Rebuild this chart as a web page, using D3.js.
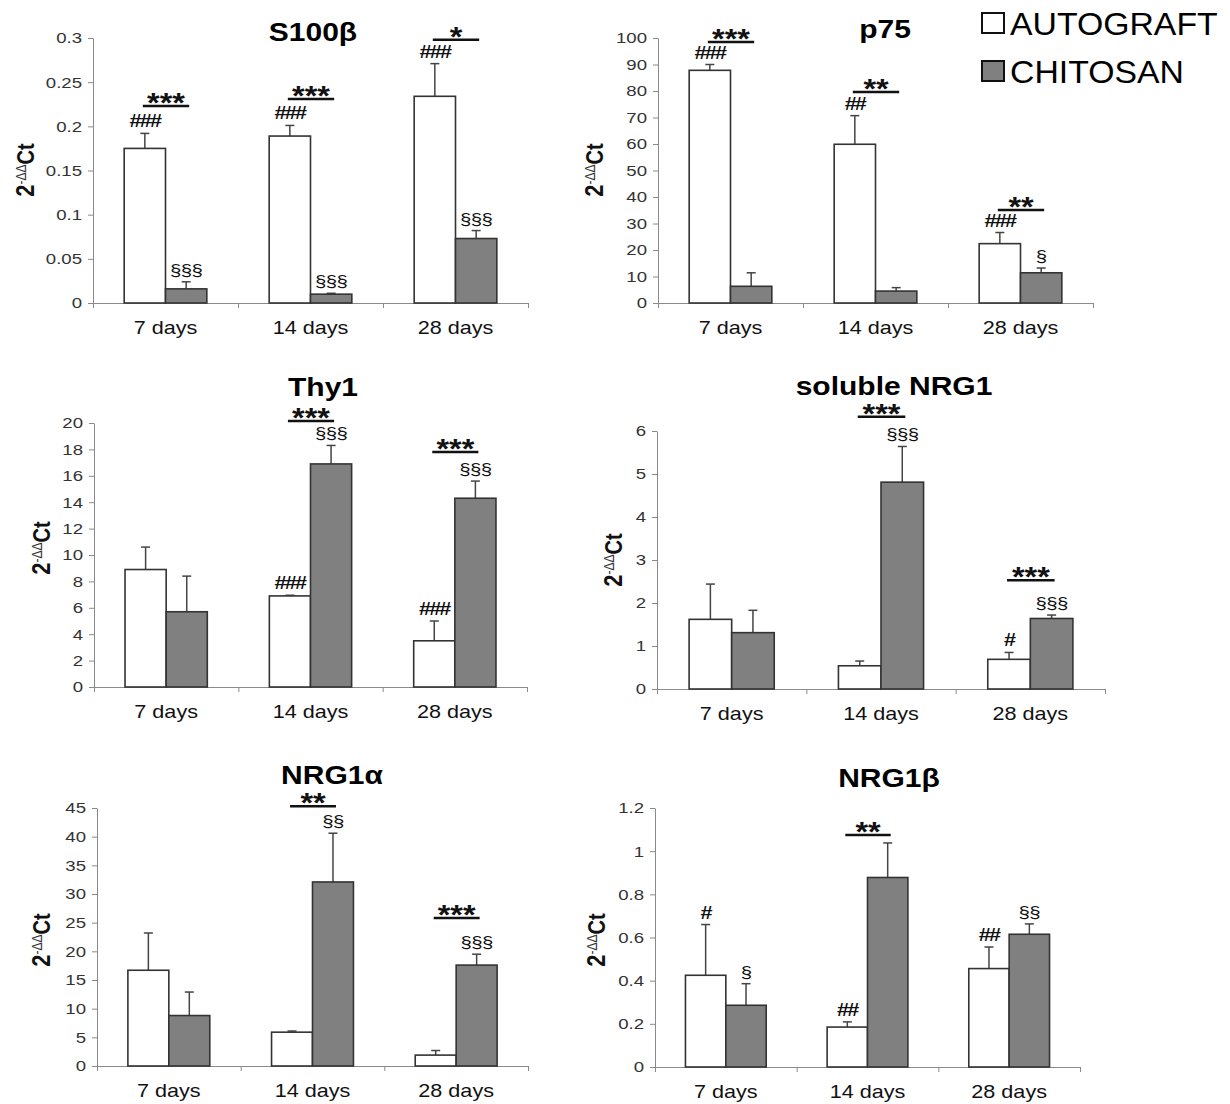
<!DOCTYPE html>
<html>
<head>
<meta charset="utf-8">
<script src="https://cdn.jsdelivr.net/npm/d3@7"></script>
<style>
  body { margin: 0; background: #fff; }
  svg { display: block; font-family: Arial, "Liberation Sans", sans-serif; }
</style>
</head>
<body>
<div id="chart"></div>
<script>
// categories and groups
const categories = ['7 days', '14 days', '28 days'];
const series = ['AUTOGRAFT', 'CHITOSAN'];

// S100β
const s100Auto = [0.175, 0.189, 0.234];
const s100AutoErr = [0.017, 0.012, 0.037];
const s100Chit = [0.016, 0.010, 0.073];
const s100ChitErr = [0.008, 0.001, 0.009];
const s100Ticks = [0, 0.05, 0.1, 0.15, 0.2, 0.25, 0.3];

// p75
const p75Auto = [87.8, 59.9, 22.4];
const p75AutoErr = [2.2, 10.8, 4.2];
const p75Chit = [6.3, 4.5, 11.4];
const p75ChitErr = [5.1, 1.3, 1.8];
const p75Ticks = [0, 10, 20, 30, 40, 50, 60, 70, 80, 90, 100];

// Thy1
const thyAuto = [8.9, 6.9, 3.5];
const thyAutoErr = [1.7, 0.05, 1.5];
const thyChit = [5.7, 16.9, 14.3];
const thyChitErr = [2.7, 1.4, 1.3];
const thyTicks = [0, 2, 4, 6, 8, 10, 12, 14, 16, 18, 20];

// soluble NRG1
const snrgAuto = [1.62, 0.54, 0.69];
const snrgAutoErr = [0.82, 0.11, 0.16];
const snrgChit = [1.31, 4.81, 1.64];
const snrgChitErr = [0.52, 0.83, 0.08];
const snrgTicks = [0, 1, 2, 3, 4, 5, 6];

// NRG1α
const nrgaAuto = [16.7, 5.9, 1.9];
const nrgaAutoErr = [6.5, 0.2, 0.8];
const nrgaChit = [8.8, 32.1, 17.6];
const nrgaChitErr = [4.1, 8.5, 1.9];
const nrgaTicks = [0, 5, 10, 15, 20, 25, 30, 35, 40, 45];

// NRG1β
const nrgbAuto = [0.425, 0.185, 0.456];
const nrgbAutoErr = [0.235, 0.024, 0.1];
const nrgbChit = [0.286, 0.878, 0.615];
const nrgbChitErr = [0.1, 0.16, 0.048];
const nrgbTicks = [0, 0.2, 0.4, 0.6, 0.8, 1, 1.2];

// significance: stars between groups (with bar level) and marks above bars
const s100Stars = [['***', 0.223], ['***', 0.231], ['*', 0.298]];
const s100AutoMarks = ['###', '###', '###'];
const s100ChitMarks = ['§§§', '§§§', '§§§'];
const p75Stars = [['***', 98.5], ['**', 79.6], ['**', 35.1]];
const p75AutoMarks = ['###', '##', '###'];
const p75ChitMarks = ['', '', '§'];
const thyStars = [null, ['***', 20.15], ['***', 17.8]];
const thyAutoMarks = ['', '###', '###'];
const thyChitMarks = ['', '§§§', '§§§'];
const snrgStars = [null, ['***', 6.33], ['***', 2.53]];
const snrgAutoMarks = ['', '', '#'];
const snrgChitMarks = ['', '§§§', '§§§'];
const nrgaStars = [null, ['**', 45.3], ['***', 25.8]];
const nrgaAutoMarks = ['', '', ''];
const nrgaChitMarks = ['', '§§', '§§§'];
const nrgbStars = [null, ['**', 1.075], null];
const nrgbAutoMarks = ['#', '##', '##'];
const nrgbChitMarks = ['§', '', '§§'];

const panels = [
  { title: 'S100β', ticks: s100Ticks, vals: [s100Auto, s100Chit], errs: [s100AutoErr, s100ChitErr],
    stars: s100Stars, marks: [s100AutoMarks, s100ChitMarks],
    box: { x0: 93, x1: 528, yTop: 38, y0: 303, tx: 313, ty: 41, lx: 26, ly: 170 } },
  { title: 'p75', ticks: p75Ticks, vals: [p75Auto, p75Chit], errs: [p75AutoErr, p75ChitErr],
    stars: p75Stars, marks: [p75AutoMarks, p75ChitMarks],
    box: { x0: 658, x1: 1093, yTop: 38, y0: 303, tx: 885, ty: 38, lx: 595, ly: 170 } },
  { title: 'Thy1', ticks: thyTicks, vals: [thyAuto, thyChit], errs: [thyAutoErr, thyChitErr],
    stars: thyStars, marks: [thyAutoMarks, thyChitMarks],
    box: { x0: 94, x1: 527, yTop: 423, y0: 687, tx: 323, ty: 396, lx: 42, ly: 548 } },
  { title: 'soluble NRG1', ticks: snrgTicks, vals: [snrgAuto, snrgChit], errs: [snrgAutoErr, snrgChitErr],
    stars: snrgStars, marks: [snrgAutoMarks, snrgChitMarks],
    box: { x0: 657, x1: 1105, yTop: 431, y0: 689, tx: 894, ty: 395, lx: 614, ly: 560 } },
  { title: 'NRG1α', ticks: nrgaTicks, vals: [nrgaAuto, nrgaChit], errs: [nrgaAutoErr, nrgaChitErr],
    stars: nrgaStars, marks: [nrgaAutoMarks, nrgaChitMarks],
    box: { x0: 97, x1: 528, yTop: 808, y0: 1066, tx: 332, ty: 784, lx: 42, ly: 940 } },
  { title: 'NRG1β', ticks: nrgbTicks, vals: [nrgbAuto, nrgbChit], errs: [nrgbAutoErr, nrgbChitErr],
    stars: nrgbStars, marks: [nrgbAutoMarks, nrgbChitMarks],
    box: { x0: 655, x1: 1080, yTop: 808, y0: 1067, tx: 889, ty: 787, lx: 597, ly: 940 } }
];

const fills = ['#ffffff', '#808080'];
const SX = 1.2; // the figure is a little wider than tall, text included

const svg = d3.select('#chart').append('svg')
  .attr('width', 1230)
  .attr('height', 1104);

svg.append('rect').attr('width', 1230).attr('height', 1104).attr('fill', '#fff');

// text stretched sideways like the source image
function stext(parent, x, y, str, sx) {
  return parent.append('text')
    .attr('transform', `translate(${x},${y}) scale(${sx},1)`)
    .text(str);
}

panels.forEach(p => {
  const b = p.box;
  const g = svg.append('g');

  const y = d3.scaleLinear()
    .domain([0, p.ticks[p.ticks.length - 1]])
    .range([b.y0, b.yTop]);

  const x = d3.scaleBand()
    .domain(categories)
    .range([b.x0, b.x1])
    .paddingInner(0.43)
    .paddingOuter(0.215);

  const xs = d3.scaleBand()
    .domain(series)
    .range([0, x.bandwidth()]);

  // Y axis
  const yAx = g.append('g')
    .attr('transform', `translate(${b.x0},0)`)
    .call(d3.axisLeft(y).tickValues(p.ticks).tickSize(5).tickSizeOuter(0)
      .tickFormat(d => String(+d.toFixed(3))));
  yAx.select('.domain').attr('stroke', '#8a8a8a');
  yAx.selectAll('.tick line').attr('stroke', '#8a8a8a');
  yAx.selectAll('.tick text')
    .attr('x', -11 / SX)
    .attr('transform', `scale(${SX},1)`)
    .attr('font-size', 15.5)
    .attr('fill', '#333');

  // X axis: line with ticks on group boundaries
  const edge = d3.scaleLinear().domain([0, categories.length]).range([b.x0, b.x1]);
  const xAx = g.append('g')
    .attr('transform', `translate(0,${b.y0})`)
    .call(d3.axisBottom(edge).ticks(categories.length).tickSize(5).tickSizeOuter(0).tickFormat(''));
  xAx.select('.domain').attr('stroke', '#8a8a8a');
  xAx.selectAll('.tick line').attr('stroke', '#8a8a8a');

  categories.forEach(c => {
    stext(g, x(c) + x.bandwidth() / 2, b.y0 + 31, c, SX)
      .attr('text-anchor', 'middle')
      .attr('font-size', 18)
      .attr('fill', '#111');
  });

  // bars + error bars
  series.forEach((s, si) => {
    categories.forEach((c, ci) => {
      const v = p.vals[si][ci];
      const top = v + p.errs[si][ci];
      const bx = x(c) + xs(s);
      const cx = bx + xs.bandwidth() / 2;

      g.append('line')
        .attr('x1', cx).attr('x2', cx)
        .attr('y1', y(v)).attr('y2', y(top))
        .attr('stroke', '#444').attr('stroke-width', 1.5);
      g.append('line')
        .attr('x1', cx - 4.5).attr('x2', cx + 4.5)
        .attr('y1', y(top)).attr('y2', y(top))
        .attr('stroke', '#444').attr('stroke-width', 1.5);

      g.append('rect')
        .attr('x', bx)
        .attr('y', y(v))
        .attr('width', xs.bandwidth())
        .attr('height', y(0) - y(v))
        .attr('fill', fills[si])
        .attr('stroke', '#333')
        .attr('stroke-width', 1.6);

      const m = p.marks[si][ci];
      if (m) {
        stext(g, cx, y(top) - 6, m, SX)
          .attr('text-anchor', 'middle')
          .attr('font-size', si === 0 ? 18 : 17)
          .attr('font-weight', si === 0 ? 'bold' : 'normal')
          .attr('letter-spacing', si === 0 ? -1.5 : -0.5)
          .attr('fill', '#111');
      }
    });
  });

  // stars over the pair
  p.stars.forEach((st, ci) => {
    if (!st) return;
    const c = categories[ci];
    const xa = x(c) + xs(series[0]) + xs.bandwidth() / 2 - 2;
    const xb = x(c) + xs(series[1]) + xs.bandwidth() / 2 + 3;
    const ly = y(st[1]);
    g.append('line')
      .attr('x1', xa).attr('x2', xb)
      .attr('y1', ly).attr('y2', ly)
      .attr('stroke', '#111').attr('stroke-width', 2.5);
    stext(g, (xa + xb) / 2, ly + 6, st[0], SX)
      .attr('text-anchor', 'middle')
      .attr('font-size', 27)
      .attr('font-weight', 'bold')
      .attr('fill', '#111');
  });

  // title
  stext(g, b.tx, b.ty, p.title, SX)
    .attr('text-anchor', 'middle')
    .attr('font-size', 25)
    .attr('font-weight', 'bold')
    .attr('fill', '#000');

  // y label 2^-ΔΔCt
  const lab = g.append('text')
    .attr('transform', `translate(${b.lx},${b.ly}) scale(1.15,1) rotate(-90)`)
    .attr('text-anchor', 'middle')
    .attr('fill', '#111');
  lab.append('tspan').attr('font-size', 22).attr('font-weight', 'bold').attr('dy', 7).text('2');
  lab.append('tspan').attr('font-size', 12).attr('dy', -7).attr('fill', '#333').text('-ΔΔ');
  lab.append('tspan').attr('font-size', 20).attr('font-weight', 'bold').attr('dy', 7).text('Ct');
});

// legend
const legend = svg.append('g').attr('class', 'legend');
series.forEach((s, i) => {
  const ly = 13 + i * 48;
  legend.append('rect')
    .attr('x', 982).attr('y', ly)
    .attr('width', 22).attr('height', 20)
    .attr('fill', fills[i])
    .attr('stroke', '#111')
    .attr('stroke-width', 2);
  stext(legend, 1010, ly + 22, s, 1.09)
    .attr('font-size', 31)
    .attr('fill', '#000');
});
</script>
</body>
</html>
